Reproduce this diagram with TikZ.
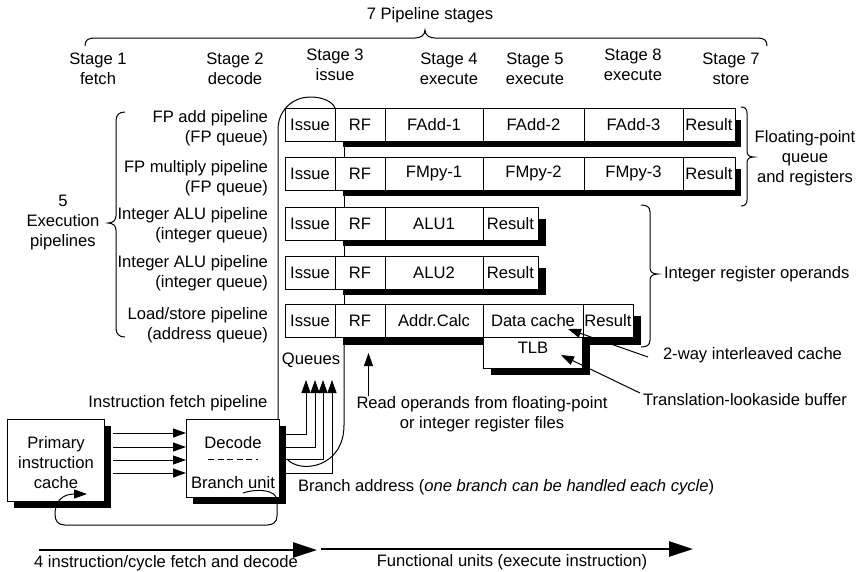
\documentclass[tikz,border=0pt]{standalone}
\usepackage{fontspec}
\setmainfont{Liberation Sans}
\usetikzlibrary{arrows.meta}
\begin{document}
\begin{tikzpicture}[x=1pt,y=-1pt,
  every node/.style={inner sep=0pt, outer sep=0pt, font=\fontsize{16.6}{20}\selectfont},
  cell/.style={draw, fill=white, line width=1pt, minimum height=33pt, anchor=north west},
  unitbox/.style={draw, fill=white, line width=1pt, anchor=north west},
  ln/.style={line width=1pt},
  sarr/.style={line width=1pt, -{Triangle[length=13pt,width=9pt]}},
  barr/.style={line width=2.6pt, -{Triangle[length=24pt,width=15pt]}},
  bracel/.style={line width=1pt}]
\useasboundingbox (0,0) rectangle (859,571);

% ---- title and top brace
\node (title) at (430,15) {7 Pipeline stages};
\draw[bracel] (85,46) .. controls (85,40) and (88,38) .. (95,38) -- (415,38) .. controls (421,38) and (425,35) .. (425,30) .. controls (425,35) and (429,38) .. (435,38) -- (757,38) .. controls (764,38) and (767,40) .. (767,46);

% ---- stage labels
\node[align=center] (s1) at (98,69) {Stage 1\\fetch};
\node[align=center] (s2) at (235,69) {Stage 2\\decode};
\node[align=center] (s3) at (335,65) {Stage 3\\issue};
\node[align=center] (s4) at (449,69) {Stage 4\\execute};
\node[align=center] (s5) at (535,69) {Stage 5\\execute};
\node[align=center] (s8) at (633,65) {Stage 8\\execute};
\node[align=center] (s7) at (731,69) {Stage 7\\store};

% ---- left labels
\node[align=right,anchor=east] (l1) at (268,128) {FP add pipeline\\(FP queue)};
\node[align=right,anchor=east] (l2) at (268,178) {FP multiply pipeline\\(FP queue)};
\node[align=right,anchor=east] (l3) at (268,225) {Integer ALU pipeline\\(integer queue)};
\node[align=right,anchor=east] (l4) at (268,273) {Integer ALU pipeline\\(integer queue)};
\node[align=right,anchor=east] (l5) at (268,325) {Load/store pipeline\\(address queue)};
\node[align=center] (exe) at (63,223) {5\\Execution\\pipelines};
\draw[bracel] (125,112) .. controls (119,112) and (116,115) .. (116,121) -- (116,216) .. controls (116,220) and (113,223) .. (108,223) .. controls (113,223) and (116,226) .. (116,230) -- (116,328) .. controls (116,334) and (119,337) .. (125,337);

% ---- row 1
\fill (343,120) rectangle (741,147);
\node[cell,minimum width=50pt] (is1) at (285,108) {Issue};
\node[cell,minimum width=50pt] (rf1) at (is1.north east) {RF};
\node[cell,minimum width=98pt] (e11) at (rf1.north east) {FAdd-1};
\node[cell,minimum width=101pt] (e12) at (e11.north east) {FAdd-2};
\node[cell,minimum width=99pt] (e13) at (e12.north east) {FAdd-3};
\node[cell,minimum width=52pt] (rs1) at (e13.north east) {Result};
% ---- row 2
\fill (343,169) rectangle (741,196);
\node[cell,minimum width=50pt] (is2) at (285,157) {Issue};
\node[cell,minimum width=50pt] (rf2) at (is2.north east) {RF};
\node[cell,minimum width=98pt] (e21) at (rf2.north east) {FMpy-1};
\node[cell,minimum width=101pt] (e22) at (e21.north east) {FMpy-2};
\node[cell,minimum width=99pt] (e23) at (e22.north east) {FMpy-3};
\node[cell,minimum width=52pt] (rs2) at (e23.north east) {Result};
% ---- row 3
\fill (343,219) rectangle (546,246);
\node[cell,minimum width=50pt] (is3) at (285,207) {Issue};
\node[cell,minimum width=50pt] (rf3) at (is3.north east) {\raisebox{-4pt}{RF}};
\node[cell,minimum width=98pt] (e31) at (rf3.north east) {ALU1};
\node[cell,minimum width=55pt] (rs3) at (e31.north east) {Result};
% ---- row 4
\fill (343,268) rectangle (546,295);
\node[cell,minimum width=50pt] (is4) at (285,256) {Issue};
\node[cell,minimum width=50pt] (rf4) at (is4.north east) {\raisebox{-4pt}{RF}};
\node[cell,minimum width=98pt] (e41) at (rf4.north east) {ALU2};
\node[cell,minimum width=55pt] (rs4) at (e41.north east) {Result};
% ---- row 5
\fill (343,316) rectangle (641,345);
\fill (491,344) rectangle (590,375);
\node[cell,minimum width=50pt] (is5) at (285,304) {Issue};
\node[cell,minimum width=50pt] (rf5) at (is5.north east) {RF};
\node[cell,minimum width=98pt] (e51) at (rf5.north east) {Addr.Calc};
\node[cell,minimum width=100pt] (dc) at (e51.north east) {Data cache};
\node[cell,minimum width=50pt] (rs5) at (dc.north east) {Result};
\node[cell,minimum width=99pt,minimum height=31pt] (tlb) at (dc.south west) {};
\node (tlbt) at (533,348) {TLB};

% ---- thin links between rows
\draw[ln] ([xshift=59pt,yshift=-6pt]is1.south west) -- ([xshift=59pt]is2.north west);
\draw[ln] ([xshift=59pt,yshift=-6pt]is2.south west) -- ([xshift=59pt]is3.north west);
\draw[ln] ([xshift=59pt,yshift=-6pt]is3.south west) -- ([xshift=59pt]is4.north west);
\draw[ln] ([xshift=59pt,yshift=-6pt]is4.south west) -- ([xshift=59pt]is5.north west);

% ---- right braces
\draw[bracel] (741,107) .. controls (745,107) and (747,109) .. (747,113) -- (747,151) .. controls (747,155) and (749,157) .. (754,157) .. controls (749,157) and (747,159) .. (747,163) -- (747,200) .. controls (747,204) and (745,206) .. (741,206);
\node[align=center] (fpq) at (805,158) {Floating-point\\queue\\and registers};
\draw[bracel] (641,205) .. controls (647,205) and (650,207) .. (650,212) -- (650,268) .. controls (650,272) and (653,274) .. (658,274) .. controls (653,274) and (650,276) .. (650,280) -- (650,340) .. controls (650,345) and (647,347) .. (641,347);
\node[anchor=west] (iro) at (664,274) {Integer register operands};

% ---- cache / TLB annotations
\node[anchor=west] (wayt) at (663,355) {2-way interleaved cache};
\draw[sarr] ([xshift=-15pt,yshift=-2pt]wayt.west) -- ([xshift=-15pt,yshift=8pt]dc.south east);
\node[anchor=west] (tlbl) at (643,400) {Translation-lookaside buffer};
\draw[sarr] ([xshift=-3pt,yshift=7pt]tlbl.west) -- ([xshift=-21pt,yshift=-18pt]tlb.north east);

% ---- read operands
\node[align=center,anchor=north] (ro) at (482,396) {Read operands from floating-point\\or integer register files};
\draw[sarr] ([xshift=12pt]ro.north west) -- ++(0,-43);

% ---- instruction cache and decode
\fill (14,426) rectangle (111,508);
\node[unitbox,minimum width=97pt,minimum height=82pt] (cache) at (7,419) {};
\node[align=center] (cachet) at (56,463) {Primary\\instruction\\cache};
\fill (193,426) rectangle (286,504);
\node[unitbox,minimum width=93pt,minimum height=78pt] (decode) at (186,419) {};
\node (dect) at (233,443) {Decode};
\draw[ln,dash pattern=on 6pt off 3.5pt] (208,459) -- (258,459);
\node (brt) at (233,483) {Branch unit};
\node (ifp) at (178,403) {Instruction fetch pipeline};

\foreach \d in {14,28,41,54}
  \draw[sarr] ([xshift=9pt,yshift=-\d pt]cache.north east) -- ([yshift=-\d pt]decode.north west);

% ---- outline around issue stage
\draw[ln] ([xshift=-1pt]decode.north east) -- (278,130) .. controls (278,108) and (295,97) .. (310,97) .. controls (322,97) and (332,101) .. (is1.north east);

% ---- decode to queues
\coordinate (q1) at (306,380);
\coordinate (q2) at (315,380);
\coordinate (q3) at (323,380);
\coordinate (q4) at (332,380);
\draw[sarr] ([xshift=7pt,yshift=-15pt]decode.north east) -| (q1);
\draw[sarr] ([xshift=7pt,yshift=-28pt]decode.north east) -| (q2);
\draw[sarr] ([xshift=7pt,yshift=-40pt]decode.north east) -| (q3);
\draw[sarr] ([xshift=7pt,yshift=-54pt]decode.north east) -| (q4);
\node (queues) at (311,360) {Queues};
\draw[ln] ([xshift=59pt,yshift=-8pt]is5.south west) -- (344,425) .. controls (344,468) and (300,474) .. ([xshift=8pt,yshift=-40pt]decode.north east);

% ---- branch loop
\draw[sarr] ([xshift=57pt,yshift=-74pt]decode.north west) .. controls (258,488) and (276,490) .. (277,500) -- (277,516) .. controls (277,522) and (273,525) .. (267,525) -- (65,525) .. controls (58,525) and (55,521) .. (55,514) .. controls (55,502) and (62,494) .. ([xshift=80pt,yshift=-75pt]cache.north west);
\node[anchor=west] (bra) at (298,487) {Branch address (\textit{one branch can be handled each cycle})};

% ---- bottom arrows
\coordinate (fa) at (39,550);
\coordinate (fb) at (317,550);
\coordinate (ga) at (321,549);
\coordinate (gb) at (693,549);
\draw[barr] (fa) -- (fb);
\draw[barr] (ga) -- (gb);
\node (ft) at (166,563) {4 instruction/cycle fetch and decode};
\node (gt) at (512,562) {Functional units (execute instruction)};
\end{tikzpicture}
\end{document}
